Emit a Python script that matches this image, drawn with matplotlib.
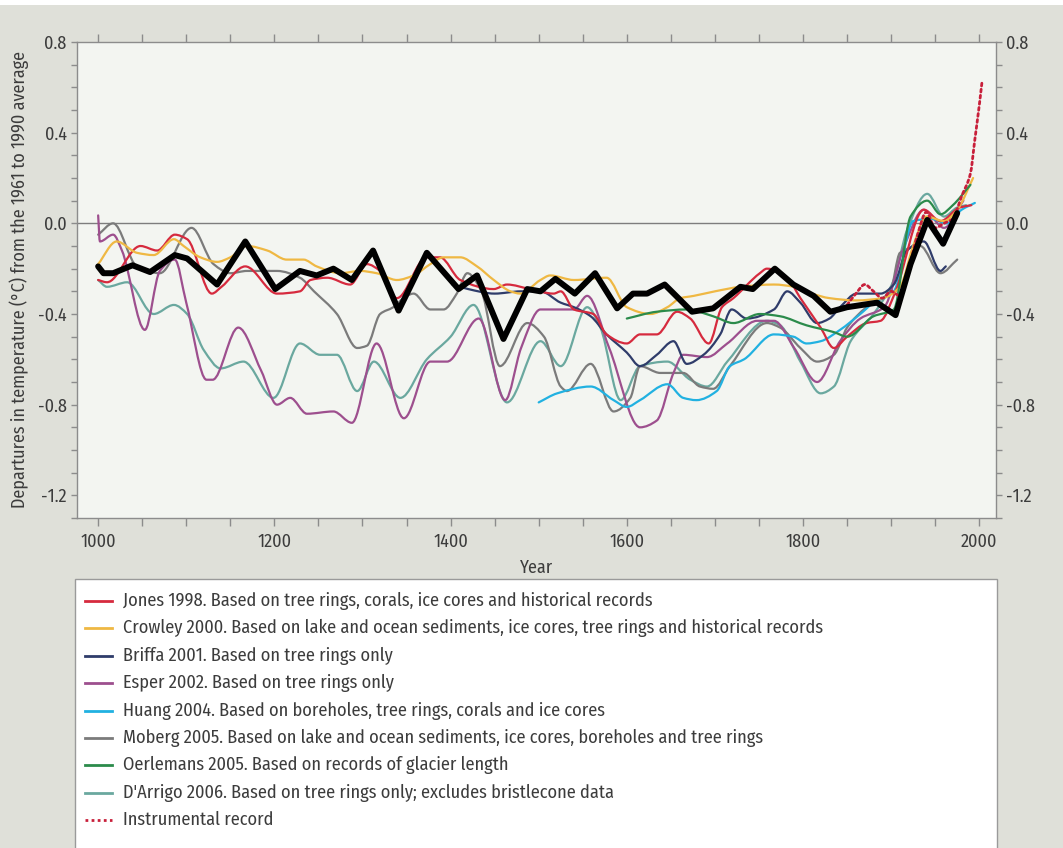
import matplotlib
matplotlib.use("Agg")
import numpy as np
import matplotlib.pyplot as plt
from matplotlib.lines import Line2D
from matplotlib.patches import Rectangle, PathPatch
from matplotlib.path import Path
from matplotlib.ticker import MultipleLocator

plt.rcParams['font.family'] = ['Fira Sans Condensed', 'Roboto Condensed', 'PT Sans Narrow',
                               'Lato', 'DejaVu Sans']

# ---- reconstructions (year, departure in degC from 1961-1990 mean) ----
jones_years = [1000, 1010, 1048, 1067, 1087, 1101, 1129, 1140, 1167, 1203, 1229, 1241, 1260, 1286,
               1305, 1320, 1339, 1373, 1388, 1411, 1449, 1464, 1490, 1517, 1525, 1540, 1562, 1577,
               1600, 1615, 1634, 1657, 1672, 1693, 1708, 1721, 1751, 1759, 1782, 1797, 1820, 1835,
               1850, 1872, 1888, 1905, 1937, 1956, 1978, 1991]
jones_vals = [-0.25, -0.26, -0.10, -0.12, -0.05, -0.07, -0.31, -0.28, -0.19, -0.31, -0.30, -0.25,
              -0.24, -0.27, -0.18, -0.21, -0.33, -0.15, -0.15, -0.25, -0.29, -0.27, -0.29, -0.31,
              -0.30, -0.38, -0.40, -0.49, -0.53, -0.49, -0.49, -0.39, -0.42, -0.53, -0.37, -0.33,
              -0.22, -0.20, -0.24, -0.33, -0.46, -0.55, -0.50, -0.44, -0.43, -0.30, 0.06, 0.01,
              0.07, 0.08]

crowley_years = [1000, 1021, 1044, 1063, 1086, 1097, 1116, 1135, 1150, 1169, 1192, 1214, 1233, 1248,
                 1275, 1297, 1316, 1339, 1358, 1377, 1392, 1411, 1430, 1449, 1468, 1479, 1502, 1513,
                 1540, 1577, 1600, 1627, 1646, 1661, 1676, 1700, 1729, 1767, 1790, 1810, 1830, 1860,
                 1890, 1910, 1925, 1940, 1960, 1975, 1993]
crowley_vals = [-0.18, -0.08, -0.13, -0.14, -0.07, -0.10, -0.15, -0.17, -0.15, -0.10, -0.12, -0.16,
                -0.16, -0.19, -0.22, -0.21, -0.22, -0.25, -0.23, -0.18, -0.15, -0.15, -0.19, -0.25,
                -0.30, -0.31, -0.25, -0.23, -0.25, -0.24, -0.37, -0.40, -0.37, -0.33, -0.32, -0.30,
                -0.28, -0.27, -0.28, -0.31, -0.33, -0.34, -0.33, -0.28, -0.10, 0.03, 0.01, 0.06, 0.20]

briffa_years = [1402, 1420, 1450, 1480, 1502, 1525, 1540, 1559, 1577, 1600, 1615, 1634, 1653, 1668,
                1687, 1706, 1719, 1736, 1767, 1782, 1797, 1816, 1830, 1842, 1861, 1888, 1903, 1918,
                1937, 1956, 1962]
briffa_vals = [-0.27, -0.29, -0.31, -0.30, -0.30, -0.35, -0.37, -0.41, -0.49, -0.57, -0.63, -0.58,
               -0.52, -0.62, -0.58, -0.49, -0.38, -0.42, -0.38, -0.30, -0.35, -0.44, -0.42, -0.37,
               -0.31, -0.31, -0.27, -0.12, -0.08, -0.21, -0.19]

esper_years = [1000, 1002, 1017, 1027, 1053, 1070, 1087, 1100, 1123, 1130, 1159, 1185, 1203, 1218,
               1237, 1267, 1288, 1316, 1347, 1377, 1396, 1432, 1462, 1480, 1502, 1540, 1555, 1580,
               1615, 1634, 1653, 1664, 1691, 1714, 1748, 1767, 1790, 1816, 1842, 1865, 1892, 1915,
               1937, 1960, 1982]
esper_vals = [0.035, -0.08, -0.05, -0.12, -0.47, -0.21, -0.16, -0.35, -0.69, -0.69, -0.46, -0.65,
              -0.80, -0.77, -0.84, -0.83, -0.88, -0.53, -0.86, -0.61, -0.61, -0.42, -0.78, -0.55,
              -0.38, -0.38, -0.32, -0.55, -0.90, -0.87, -0.66, -0.58, -0.59, -0.53, -0.43, -0.43,
              -0.55, -0.70, -0.52, -0.42, -0.37, -0.10, 0.06, -0.02, 0.10]

huang_years = [1500, 1521, 1559, 1585, 1600, 1615, 1646, 1664, 1679, 1702, 1717, 1733, 1767, 1789,
               1804, 1820, 1842, 1865, 1880, 1903, 1925, 1945, 1963, 1980, 1995]
huang_vals = [-0.79, -0.75, -0.72, -0.78, -0.81, -0.78, -0.71, -0.77, -0.78, -0.74, -0.63, -0.60,
              -0.49, -0.50, -0.53, -0.52, -0.47, -0.40, -0.35, -0.30, 0.01, 0.02, 0.0, 0.06, 0.09]

moberg_years = [1000, 1017, 1044, 1070, 1106, 1131, 1150, 1169, 1203, 1229, 1245, 1271, 1294, 1305,
                1320, 1335, 1350, 1358, 1377, 1392, 1407, 1419, 1435, 1456, 1487, 1506, 1525, 1532,
                1559, 1585, 1604, 1615, 1638, 1664, 1683, 1698, 1717, 1759, 1774, 1797, 1816, 1835,
                1850, 1872, 1899, 1910, 1933, 1956, 1975]
moberg_vals = [-0.05, 0.0, -0.19, -0.22, -0.02, -0.18, -0.22, -0.21, -0.21, -0.24, -0.30, -0.40,
               -0.55, -0.54, -0.40, -0.37, -0.32, -0.31, -0.38, -0.38, -0.31, -0.22, -0.30, -0.63,
               -0.44, -0.50, -0.72, -0.74, -0.62, -0.83, -0.77, -0.63, -0.66, -0.66, -0.72, -0.73,
               -0.63, -0.44, -0.46, -0.55, -0.61, -0.58, -0.46, -0.37, -0.30, -0.13, -0.10, -0.22,
               -0.16]

oerlemans_years = [1600, 1634, 1668, 1698, 1721, 1751, 1774, 1804, 1835, 1850, 1880, 1903, 1922,
                   1941, 1956, 1970, 1990]
oerlemans_vals = [-0.42, -0.39, -0.38, -0.41, -0.44, -0.40, -0.41, -0.45, -0.48, -0.50, -0.41, -0.38,
                  0.03, 0.10, 0.04, 0.08, 0.17]

darrigo_years = [1000, 1010, 1033, 1063, 1086, 1101, 1120, 1139, 1165, 1199, 1229, 1252, 1271, 1294,
                 1313, 1343, 1373, 1400, 1426, 1464, 1502, 1525, 1555, 1570, 1593, 1615, 1646, 1672,
                 1691, 1714, 1759, 1774, 1797, 1820, 1835, 1854, 1880, 1903, 1918, 1941, 1960, 1975,
                 1985]
darrigo_vals = [-0.25, -0.28, -0.26, -0.40, -0.36, -0.40, -0.56, -0.64, -0.61, -0.77, -0.53, -0.58,
                -0.58, -0.74, -0.61, -0.77, -0.60, -0.50, -0.36, -0.79, -0.52, -0.63, -0.37, -0.46,
                -0.78, -0.63, -0.61, -0.69, -0.72, -0.61, -0.43, -0.45, -0.61, -0.75, -0.72, -0.52,
                -0.40, -0.25, -0.03, 0.13, 0.03, 0.07, 0.08]

instr_years = [1850, 1860, 1870, 1880, 1890, 1900, 1910, 1920, 1930, 1940, 1950, 1960, 1970, 1980,
               1990, 1995, 2000, 2003]
instr_vals = [-0.36, -0.31, -0.27, -0.30, -0.33, -0.30, -0.32, -0.20, -0.05, 0.05, -0.02, 0.0, 0.02,
              0.12, 0.22, 0.37, 0.52, 0.62]

mean_years = [1000, 1006, 1017, 1039, 1059, 1087, 1101, 1135, 1167, 1201, 1229, 1248, 1267, 1288,
              1312, 1341, 1373, 1409, 1430, 1460, 1487, 1502, 1519, 1541, 1564, 1589, 1607, 1623,
              1643, 1674, 1698, 1729, 1743, 1768, 1789, 1812, 1831, 1850, 1884, 1905, 1922, 1941,
              1959, 1975]
mean_vals = [-0.19, -0.22, -0.22, -0.185, -0.215, -0.14, -0.155, -0.27, -0.08, -0.29, -0.21, -0.23,
             -0.20, -0.25, -0.12, -0.385, -0.13, -0.29, -0.23, -0.51, -0.29, -0.30, -0.245, -0.31,
             -0.22, -0.375, -0.31, -0.31, -0.27, -0.39, -0.375, -0.28, -0.29, -0.20, -0.27, -0.32,
             -0.39, -0.37, -0.35, -0.405, -0.18, 0.015, -0.09, 0.045]

series_labels = [
    "Jones 1998. Based on tree rings, corals, ice cores and historical records",
    "Crowley 2000. Based on lake and ocean sediments, ice cores, tree rings and historical records",
    "Briffa 2001. Based on tree rings only",
    "Esper 2002. Based on tree rings only",
    "Huang 2004. Based on boreholes, tree rings, corals and ice cores",
    "Moberg 2005. Based on lake and ocean sediments, ice cores, boreholes and tree rings",
    "Oerlemans 2005. Based on records of glacier length",
    "D'Arrigo 2006. Based on tree rings only; excludes bristlecone data",
    "Instrumental record",
]
series_colors = ["#d62a3e", "#efb843", "#2f3c6a", "#9d4f8e", "#21b1e1",
                 "#7b7b7b", "#2b8b4b", "#6aa89f", "#c81f3a"]

series = [
    (jones_years, jones_vals),
    (crowley_years, crowley_vals),
    (briffa_years, briffa_vals),
    (esper_years, esper_vals),
    (huang_years, huang_vals),
    (moberg_years, moberg_vals),
    (oerlemans_years, oerlemans_vals),
    (darrigo_years, darrigo_vals),
]


def smooth_path(xs, ys):
    """Cubic Bezier path through every point (monotone Hermite tangents)."""
    x = np.asarray(xs, float)
    y = np.asarray(ys, float)
    h = np.diff(x)
    d = np.diff(y) / h
    m = np.empty_like(y)
    m[0], m[-1] = d[0], d[-1]
    for i in range(1, len(y) - 1):
        if d[i - 1] * d[i] <= 0:
            m[i] = 0.0
        else:
            w1 = 2 * h[i] + h[i - 1]
            w2 = h[i] + 2 * h[i - 1]
            m[i] = (w1 + w2) / (w1 / d[i - 1] + w2 / d[i])
    verts = [(x[0], y[0])]
    codes = [Path.MOVETO]
    for i in range(len(h)):
        verts += [(x[i] + h[i] / 3, y[i] + m[i] * h[i] / 3),
                  (x[i + 1] - h[i] / 3, y[i + 1] - m[i + 1] * h[i] / 3),
                  (x[i + 1], y[i + 1])]
        codes += [Path.CURVE4] * 3
    return Path(verts, codes)


def draw_curve(axis, xs, ys, **kw):
    patch = PathPatch(smooth_path(xs, ys), fill=False, capstyle="round", joinstyle="round", **kw)
    axis.add_patch(patch)
    return patch


W, H = 1063, 848
FS = 13
TXT = "#3c3c3c"
fig = plt.figure(figsize=(W / 100, H / 100), dpi=100, facecolor="#dfe0d9")

# white strip along the top edge
fig.patches.append(Rectangle((0, 1 - 5 / H), 1, 5 / H, transform=fig.transFigure,
                             facecolor="white", edgecolor="none", zorder=0))

ax = fig.add_axes([77 / W, 1 - 518 / H, (996 - 77) / W, (518 - 42) / H])
ax.set_facecolor("#f3f5f1")
ax.set_xlim(976, 2019)
ax.set_ylim(-1.3, 0.8)

ax.axhline(0, color="#7d7d7d", lw=1.0, zorder=1)

draw_order = [7, 5, 3, 4, 2, 0, 1, 6]
for i in draw_order:
    yrs, vals = series[i]
    draw_curve(ax, yrs, vals, edgecolor=series_colors[i], lw=1.6, zorder=2)

draw_curve(ax, instr_years, instr_vals, edgecolor=series_colors[8], lw=2.0,
           linestyle=(0, (1, 1.2)), zorder=3)
# multi-reconstruction mean as a heavy polyline
ax.plot(mean_years, mean_vals, color="black", lw=4.3, zorder=4,
        solid_joinstyle="round", solid_capstyle="round")

# axes styling
spine_col = "#8c8c8c"
for s in ax.spines.values():
    s.set_color(spine_col)
    s.set_linewidth(1.0)

ax.xaxis.set_major_locator(MultipleLocator(200))
ax.xaxis.set_minor_locator(MultipleLocator(50))
ax.yaxis.set_minor_locator(MultipleLocator(0.1))
ax.set_yticks([0.8, 0.4, 0.0, -0.4, -0.8, -1.2])
ax.set_yticklabels(["0.8", "0.4", "0.0", "-0.4", "-0.8", "-1.2"])

ax.tick_params(axis="x", which="both", direction="out", top=True, bottom=True,
               length=6, width=1, color=spine_col, labelsize=FS, labelcolor=TXT, pad=5)
ax.tick_params(axis="y", which="both", direction="out", left=True, right=True,
               labelleft=True, labelright=True,
               length=4.5, width=1, color=spine_col, labelsize=FS, labelcolor=TXT, pad=3)

ax.set_xlabel("Year", fontsize=FS, color=TXT, labelpad=6)
ax.set_ylabel("Departures in temperature (°C) from the 1961 to 1990 average",
              fontsize=FS, color=TXT, labelpad=6)

# legend panel
box_left, box_right, box_top = 75, 997, 579
fig.patches.append(Rectangle((box_left / W, -0.05), (box_right - box_left) / W,
                             (H - box_top) / H + 0.05, transform=fig.transFigure,
                             facecolor="white", edgecolor="#9a9a9a", lw=1.0, zorder=1))
row0, row_step = 601, 27.4
for k, (lab, col) in enumerate(zip(series_labels, series_colors)):
    yy = 1 - (row0 + k * row_step) / H
    style = (0, (1, 1.2)) if k == 8 else "-"
    fig.lines.append(Line2D([85 / W, 112 / W], [yy, yy], transform=fig.transFigure, color=col,
                            lw=2.0, linestyle=style, zorder=3))
    fig.text(123 / W, yy, lab, fontsize=13.2, color=TXT, va="center", ha="left", zorder=3)

fig.savefig("out.png", dpi=100, facecolor=fig.get_facecolor())
